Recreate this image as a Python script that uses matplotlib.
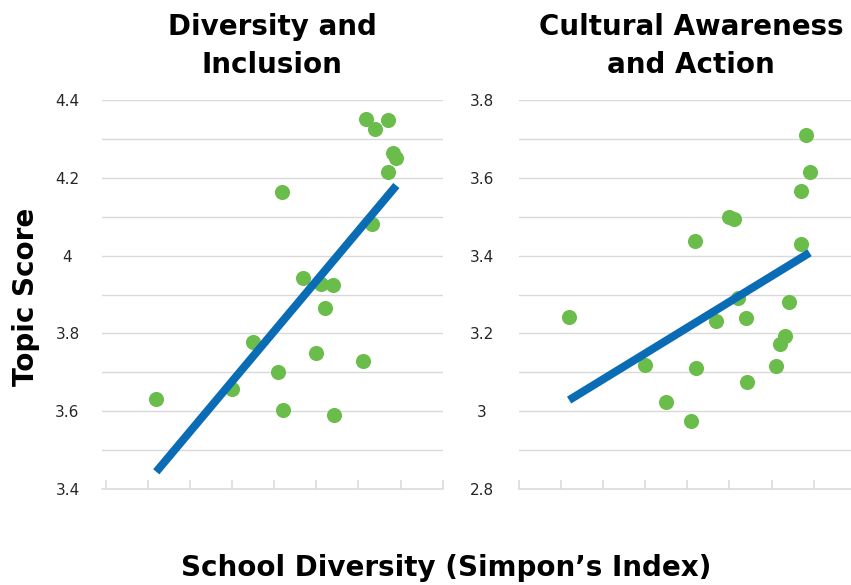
import numpy as np
import matplotlib
matplotlib.use("Agg")
import matplotlib.pyplot as plt
from matplotlib.ticker import FixedLocator

# School diversity (Simpson's index) for each school, shared by both panels
diversity = [0.120, 0.300, 0.350, 0.410, 0.419, 0.420, 0.469, 0.500, 0.510, 0.520,
             0.540, 0.541, 0.610, 0.619, 0.631, 0.640, 0.669, 0.670, 0.681, 0.690]

# Topic scores per school
inclusion_scores = [3.632, 3.657, 3.777, 3.700, 4.163, 3.604, 3.943, 3.750, 3.927, 3.866,
                    3.924, 3.590, 3.729, 4.352, 4.081, 4.326, 4.214, 4.349, 4.263, 4.250]
awareness_scores = [3.243, 3.119, 3.023, 2.975, 3.437, 3.112, 3.232, 3.500, 3.493, 3.290,
                    3.240, 3.076, 3.115, 3.174, 3.194, 3.281, 3.430, 3.567, 3.710, 3.616]

title_lines = [["Diversity and", "Inclusion"], ["Cultural Awareness", "and Action"]]
y_ranges = [(3.4, 4.4), (2.8, 3.8)]
x_ticks = [0.0, 0.1, 0.2, 0.3, 0.4, 0.5, 0.6, 0.7, 0.8]

GREEN = "#6abd4b"
BLUE = "#0a6cb4"
GRID = "#d9d9d9"

W, H = 851, 585
plt.rcParams["font.family"] = ["DejaVu Sans"]
fig = plt.figure(figsize=(W / 100, H / 100), dpi=100)


def px_axes(left, top, right, bottom):
    return fig.add_axes([left / W, 1 - bottom / H, (right - left) / W, (bottom - top) / H])


ax_left = px_axes(101.5, 100, 442.7, 489)
ax_right = px_axes(518.5, 100, 856.0, 489)
panels = [
    (ax_left, inclusion_scores, (-0.01, 0.8), 24.5, 272),
    (ax_right, awareness_scores, (0.0, 0.8), 26.5, 691),
]

x = np.array(diversity)
for i, (ax, scores, xlim, pad, title_x) in enumerate(panels):
    y = np.array(scores)
    lo, hi = y_ranges[i]
    ax.set_xlim(*xlim)
    ax.set_ylim(lo, hi)

    ax.scatter(x, y, s=118, color=GREEN, linewidths=0, zorder=3)

    # linear trend line across the observed diversity range
    slope, intercept = np.polyfit(x, y, 1)
    xs = np.array([x.min(), x.max()])
    ax.plot(xs, slope * xs + intercept, color=BLUE, lw=5.8,
            solid_capstyle="butt", zorder=4)

    # horizontal gridlines every 0.1, labels every 0.2
    yt = np.round(np.arange(lo, hi + 1e-9, 0.1), 1)
    ax.yaxis.set_major_locator(FixedLocator(yt))
    ax.set_yticklabels([f"{v:g}" if k % 2 == 0 else "" for k, v in enumerate(yt)])
    ax.grid(axis="y", color=GRID, lw=1.0, zorder=0)
    ax.tick_params(axis="y", length=0, pad=pad, labelsize=11, labelcolor="#262626")
    for lab in ax.get_yticklabels():
        lab.set_horizontalalignment("center")

    ax.xaxis.set_major_locator(FixedLocator(x_ticks))
    ax.set_xticklabels([])
    ax.tick_params(axis="x", direction="in", length=6.5, width=1.1, color=GRID)

    for side in ("left", "right", "top"):
        ax.spines[side].set_visible(False)
    ax.spines["bottom"].set_color(GRID)
    ax.spines["bottom"].set_linewidth(1.1)
    ax.set_axisbelow(True)

    for j, line in enumerate(title_lines[i]):
        fig.text(title_x / W, 1 - (35 + 38 * j) / H, line, ha="center", va="baseline",
                 fontsize=20, fontweight="bold", color="black")

fig.text(26 / W, 1 - 296.5 / H, "Topic Score", rotation=90, ha="center", va="center",
         fontsize=20, fontweight="bold", color="black")
fig.text(446 / W, 1 - 576 / H, "School Diversity (Simpon\u2019s Index)", ha="center",
         va="baseline", fontsize=20, fontweight="bold", color="black")

fig.savefig("out.png", dpi=100, facecolor="white")
